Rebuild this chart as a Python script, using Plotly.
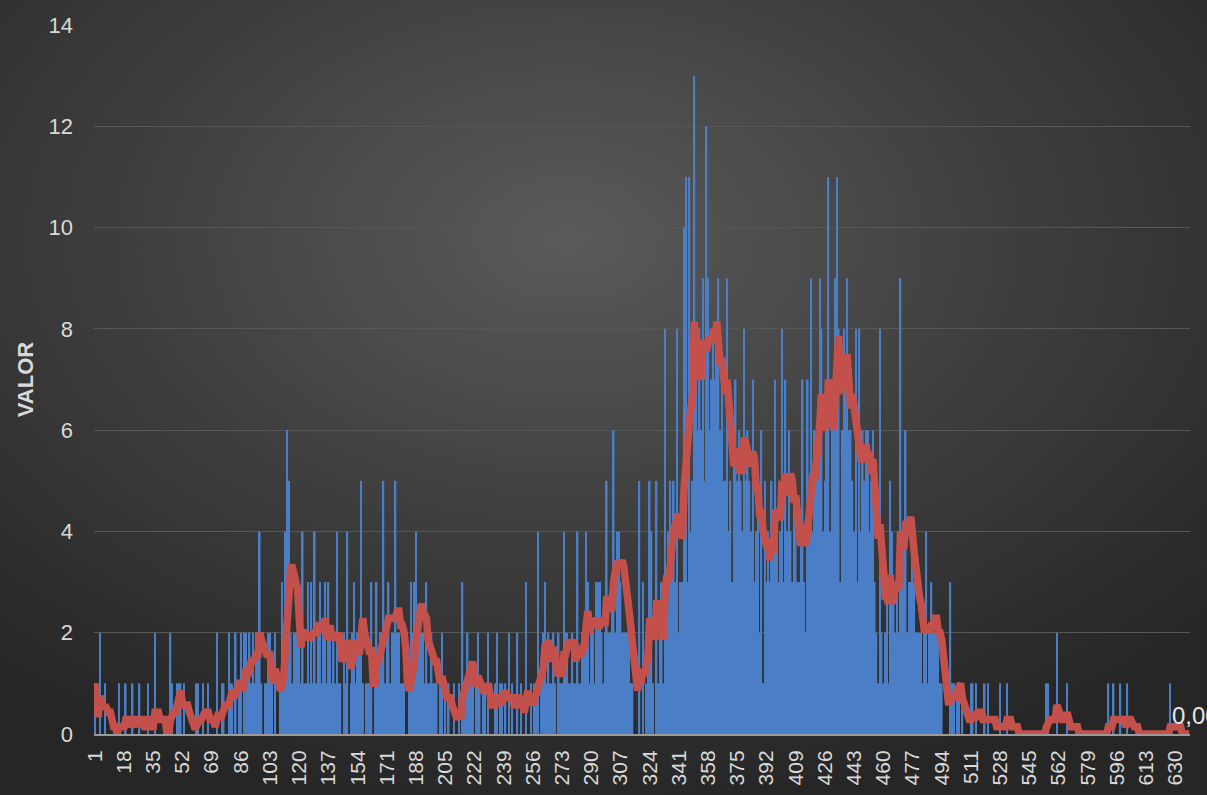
import base64
import pandas as pd
import plotly.graph_objects as go

# ---- data ----
valores = [
    1,0,0,2,0,0,1,0,0,0, 0,0,0,0,1,0,0,0,1,0, 0,0,1,0,0,0,1,0,0,0, 0,1,0,0,0,2,0,0,0,0,
    0,0,0,0,2,1,0,0,1,1, 1,0,1,0,0,0,0,0,0,1, 1,0,0,1,0,0,1,0,0,0, 0,2,0,0,1,1,0,0,2,1,
    1,0,2,0,1,2,0,2,2,1, 2,1,2,1,2,2,4,1,0,1, 1,2,2,1,0,2,0,0,1,3, 2,4,6,5,2,1,2,2,2,2,
    1,4,1,1,3,1,3,1,4,1, 2,3,1,2,3,1,3,2,1,2, 1,4,1,1,0,2,1,4,0,1, 2,3,1,2,2,5,1,0,1,1,
    1,3,0,1,3,1,2,2,5,1, 2,3,1,2,2,5,2,2,1,1, 1,0,0,1,3,2,3,4,2,2, 2,2,1,3,1,1,2,1,1,1,
    0,1,2,0,1,0,1,0,0,1, 0,0,1,0,3,1,1,2,1,1, 1,0,1,2,1,0,1,1,0,2, 0,0,0,1,2,0,1,1,0,1,
    0,2,0,1,0,0,2,0,1,0, 0,3,0,0,1,0,1,1,4,0, 1,2,3,1,2,1,1,2,1,0, 2,1,1,4,2,2,1,1,2,1,
    1,4,1,1,2,2,4,3,1,2, 2,1,3,3,3,2,1,2,5,2, 2,3,6,2,4,4,3,2,2,2, 2,2,1,1,0,0,0,5,0,3,
    0,1,2,5,4,1,0,5,1,2, 3,1,8,2,4,5,3,5,3,8, 2,3,3,10,11,3,11,4,5,13, 7,6,8,6,9,5,12,9,6,7,
    8,7,8,9,6,7,5,5,9,4, 5,3,6,7,5,6,5,4,8,5, 6,5,4,7,3,4,5,2,6,1, 5,3,4,3,5,4,7,4,3,4,
    8,3,7,4,6,4,3,5,4,3, 3,4,7,3,2,7,4,9,4,6, 5,6,9,8,4,5,6,11,4,6, 6,9,11,8,3,6,8,7,9,6,
    6,5,4,8,3,8,4,6,5,6, 6,4,5,6,3,2,1,8,2,1, 2,3,1,5,4,3,2,3,2,9, 3,4,6,2,3,3,4,3,2,2,
    2,2,1,2,4,1,2,3,2,2, 2,2,1,1,0,0,0,0,3,1, 1,0,1,1,0,1,0,0,0,0, 1,1,0,1,0,0,0,0,1,0,
    1,0,0,0,0,0,0,1,0,0, 0,1,0,0,0,0,0,0,0,0, 0,0,0,0,0,0,0,0,0,0, 0,0,0,0,1,1,0,0,0,0,
    2,0,0,0,0,0,1,0,0,0, 0,0,0,0,0,0,0,0,0,0, 0,0,0,0,0,0,0,0,0,0, 1,0,0,1,0,0,0,1,0,0,
    0,1,0,0,0,0,0,0,0,0, 0,0,0,0,0,0,0,0,0,0, 0,0,0,0,0,0,1,0,0,0, 0,0,0,0,0,0,0,0,
]
categorias = list(range(1, len(valores) + 1))
etiquetas_x = categorias[::17]
ticks_y = [0, 2, 4, 6, 8, 10, 12, 14]
periodo_media = 7

media = pd.Series(valores).rolling(periodo_media, min_periods=1).mean()

# ---- background (radial gradient as an SVG image) ----
W, H = 1207, 795
L, R, T, B = 94, 17, 25, 61
pw, ph = W - L - R, H - T - B
svg = (
    f'<svg xmlns="http://www.w3.org/2000/svg" width="{W}" height="{H}">'
    '<defs><radialGradient id="g" cx="0.47" cy="0.3" r="0.72">'
    '<stop offset="0" stop-color="#5a5a5a"/><stop offset="0.55" stop-color="#3c3c3c"/>'
    '<stop offset="1" stop-color="#262626"/></radialGradient></defs>'
    f'<rect width="{W}" height="{H}" fill="url(#g)"/></svg>'
)
src = "data:image/svg+xml;base64," + base64.b64encode(svg.encode()).decode()

fig = go.Figure()
fig.add_trace(go.Bar(
    x=categorias, y=valores,
    marker=dict(color="#4a7ec6", line=dict(width=0)),
    name="VALOR",
))
fig.add_trace(go.Scatter(
    x=categorias, y=media, mode="lines",
    line=dict(color="#c4504c", width=7.5, shape="linear"),
    name="Media móvil",
))

ult = media.iloc[-1]
fig.add_annotation(
    x=categorias[-1], y=ult, xref="x", yref="y",
    text=f"{ult:.2f}".replace(".", ","), showarrow=False,
    xanchor="left", yanchor="middle", xshift=-19, yshift=19,
    font=dict(family="Liberation Sans, Arial, sans-serif", size=24, color="#e6e6e6"),
)

fig.update_layout(
    width=W, height=H,
    margin=dict(l=L, r=R, t=T, b=B, autoexpand=False),
    paper_bgcolor="#2e2e2e",
    plot_bgcolor="rgba(0,0,0,0)",
    showlegend=False,
    bargap=0.08,
    images=[dict(
        source=src, xref="paper", yref="paper",
        x=-L / pw, y=1 + T / ph, sizex=W / pw, sizey=H / ph,
        xanchor="left", yanchor="top", sizing="stretch", layer="below",
    )],
    font=dict(family="Liberation Sans, Arial, sans-serif", color="#d9d9d9"),
)
fig.update_xaxes(
    range=[0.5, len(valores) + 0.5],
    tickmode="array", tickvals=etiquetas_x, ticktext=[str(v) for v in etiquetas_x],
    tickangle=-90, tickfont=dict(size=21, color="#d9d9d9"),
    showgrid=False, zeroline=False,
    showline=True, linecolor="#9a9a9a", linewidth=2,
    ticks="", ticklabelstandoff=6,
)
fig.update_yaxes(
    range=[0, 14], tickmode="array", tickvals=ticks_y,
    tickfont=dict(size=22, color="#d9d9d9"),
    showgrid=True, gridcolor="#575757", gridwidth=1,
    zeroline=False, showline=False, ticks="", ticklabelstandoff=20,
    title=dict(text="<b>VALOR</b>", font=dict(size=22, color="#d9d9d9"), standoff=8),
)

fig.write_html(
    "out.html",
    config={"displayModeBar": False},
    post_script="document.body.style.margin='0';document.body.style.overflow='hidden';",
)
